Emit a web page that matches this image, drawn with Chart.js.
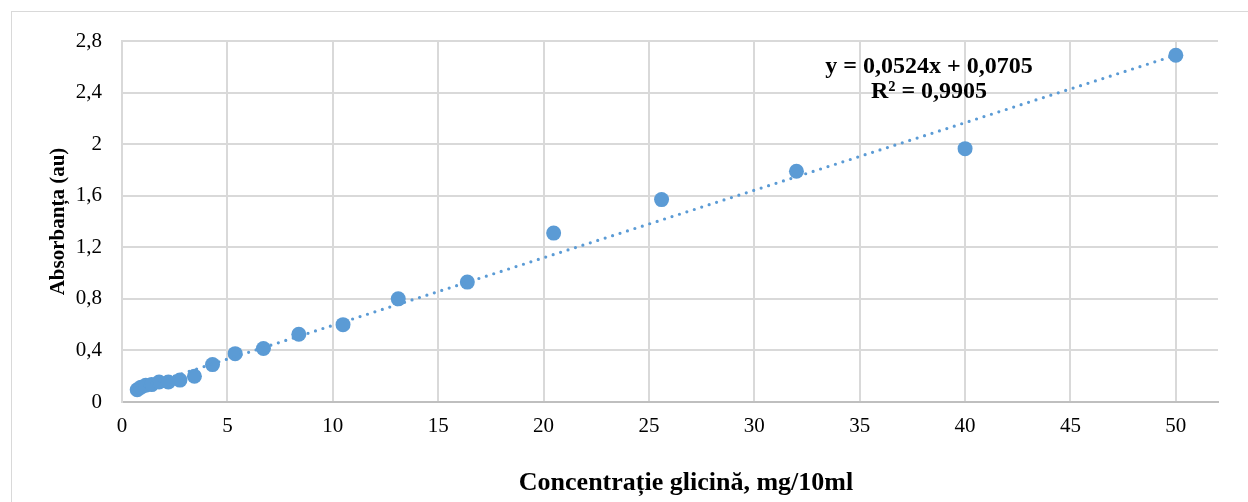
<!DOCTYPE html>
<html>
<head>
<meta charset="utf-8">
<script src="https://cdn.jsdelivr.net/npm/chart.js@4.4.1/dist/chart.umd.min.js"></script>
<style>
  html, body { margin: 0; padding: 0; background: #fff; overflow: hidden; }
  #wrap { position: relative; width: 1248px; height: 502px; }
  #frame { position: absolute; left: 11px; top: 11px; width: 1400px; height: 700px; border: 1px solid #d9d9d9; box-sizing: border-box; }
  #c { position: absolute; left: 0; top: 0; }
</style>
</head>
<body>
<div id="wrap">
  <div id="frame"></div>
  <canvas id="c" width="1248" height="502"></canvas>
</div>
<script>
// Data
const concentrations = [0.721, 0.901, 1.126, 1.407, 1.759, 2.199, 2.749, 3.436, 4.295, 5.369, 6.711, 8.389, 10.486, 13.107, 16.384, 20.48, 25.6, 32, 40, 50];
const absorbances   = [0.095, 0.115, 0.13, 0.135, 0.155, 0.155, 0.17, 0.20, 0.29, 0.375, 0.415, 0.525, 0.60, 0.80, 0.93, 1.31, 1.57, 1.79, 1.965, 2.69];
const trendSlope = 0.0524;
const trendIntercept = 0.0705;
const equationLines = ["y = 0,0524x + 0,0705", "R\u00B2 = 0,9905"];
const xAxisTitle = "Concentra\u021Bie glicin\u0103, mg/10ml";
const yAxisTitle = "Absorban\u021Ba (au)";
const xTickValues = [0, 5, 10, 15, 20, 25, 30, 35, 40, 45, 50];
const yTickValues = [0, 0.4, 0.8, 1.2, 1.6, 2, 2.4, 2.8];

const points = concentrations.map((x, i) => ({ x: x, y: absorbances[i] }));
const xMin = Math.min(...concentrations), xMax = Math.max(...concentrations);
const trend = [xMin, xMax].map(x => ({ x: x, y: trendSlope * x + trendIntercept }));

const BLUE = '#5B9BD5';
const FONT = '"Liberation Serif", "Times New Roman", serif';

const fmt = v => String(+(+v).toFixed(1)).replace('.', ',');

const textPlugin = {
  id: 'texts',
  afterDraw(chart) {
    const ctx = chart.ctx;
    ctx.save();
    ctx.fillStyle = '#000';
    ctx.textAlign = 'center';
    ctx.textBaseline = 'alphabetic';
    ctx.font = 'bold 24px ' + FONT;
    ctx.fillText(equationLines[0], 929, 73);
    ctx.fillText(equationLines[1], 929, 98);
    ctx.font = 'bold 26px ' + FONT;
    ctx.fillText(xAxisTitle, 686, 490);
    ctx.restore();
  }
};

new Chart(document.getElementById('c'), {
  type: 'scatter',
  data: {
    datasets: [
      {
        type: 'line',
        label: 'Trend',
        data: trend,
        borderColor: BLUE,
        borderWidth: 3.2,
        borderDash: [0, 7.8],
        borderCapStyle: 'round',
        pointRadius: 0,
        fill: false,
        order: 0
      },
      {
        label: 'Absorbanța',
        data: points,
        backgroundColor: BLUE,
        borderColor: BLUE,
        borderWidth: 0,
        pointRadius: 7.5,
        pointHoverRadius: 7.5,
        order: 1
      }
    ]
  },
  options: {
    responsive: false,
    animation: false,
    events: [],
    layout: { padding: { left: 0, top: 41, right: 30, bottom: 0 } },
    plugins: { legend: { display: false }, tooltip: { enabled: false }, title: { display: false } },
    scales: {
      x: {
        type: 'linear',
        min: 0,
        max: 52,
        afterFit(s) { s.height = 100; },
        afterBuildTicks(s) { s.ticks = xTickValues.map(v => ({ value: v })); },
        ticks: {
          stepSize: 5,
          includeBounds: false,
          padding: 12,
          color: '#000',
          font: { family: FONT, size: 21 },
          maxRotation: 0,
          callback: v => fmt(v)
        },
        grid: { color: '#d9d9d9', lineWidth: 2, drawTicks: false },
        border: { color: '#bfbfbf', width: 2 }
      },
      y: {
        type: 'linear',
        min: 0,
        max: 2.8,
        afterFit(s) { s.width = 122; },
        afterBuildTicks(s) { s.ticks = yTickValues.map(v => ({ value: v })); },
        ticks: {
          stepSize: 0.4,
          padding: 20,
          color: '#000',
          font: { family: FONT, size: 21 },
          callback: v => fmt(v)
        },
        grid: { color: '#d9d9d9', lineWidth: 2, drawTicks: false },
        border: { color: '#d9d9d9', width: 2 },
        title: {
          display: true,
          text: yAxisTitle,
          color: '#000',
          font: { family: FONT, size: 21, weight: 'bold', lineHeight: 1 },
          padding: { top: 48, bottom: 0 }
        }
      }
    }
  },
  plugins: [textPlugin]
});
</script>
</body>
</html>
